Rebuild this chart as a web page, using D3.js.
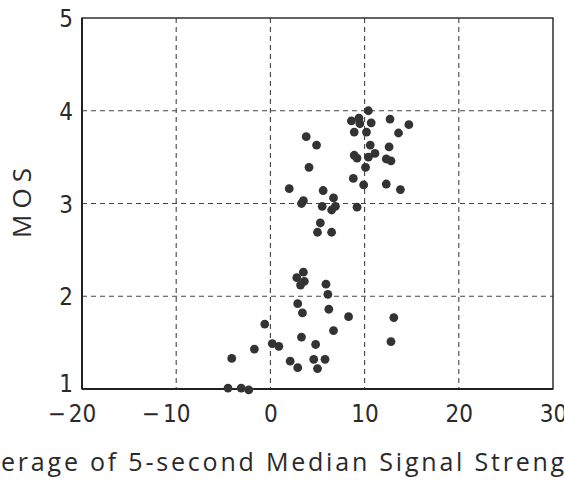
<!DOCTYPE html>
<html><head><meta charset="utf-8">
<script src="https://cdn.jsdelivr.net/npm/d3@7"></script>
<style>
html,body{margin:0;padding:0;background:#fff;}
svg{display:block;}
.tick-lab{font-family:"Liberation Sans Narrow","DejaVu Sans Condensed","Liberation Sans",sans-serif;font-stretch:condensed;font-size:24px;fill:#2a2a2a;}
</style></head>
<body>
<script>
const xTicks = [-20, -10, 0, 10, 20, 30];
const yTicks = [1, 2, 3, 4, 5];
const xLabel = "Average of 5-second Median Signal Strength (dB)";
const yLabel = "MOS";
const signal = [10.4, 8.6, 9.4, 9.5, 10.7, 12.7, 14.7, 8.9, 10.2, 13.6, 3.8, 4.9, 10.6, 12.6, 8.9, 9.2, 10.4, 11.1, 12.3, 12.8, 4.1, 10.1, 8.8, 9.9, 12.3, 13.8, 2.0, 5.6, 6.7, 3.5, 3.3, 5.5, 6.9, 6.5, 9.2, 5.3, 5.0, 6.5,
  3.5, 2.8, 3.6, 3.2, 5.9, 6.1, 2.9, 3.4, 6.2, 8.3, 13.1, -0.6, 6.7, 3.3, 4.8, 0.2, 0.9, -1.7, 12.8, -4.1, 2.1, 4.6, 5.8, 2.9, 5.0, -4.5, -3.1, -2.3];
const mos = [4.00, 3.89, 3.92, 3.86, 3.87, 3.91, 3.85, 3.77, 3.77, 3.76, 3.72, 3.63, 3.63, 3.61, 3.52, 3.49, 3.50, 3.54, 3.48, 3.46, 3.39, 3.39, 3.27, 3.20, 3.21, 3.15, 3.16, 3.14, 3.06, 3.03, 3.00, 2.97, 2.97, 2.93, 2.96, 2.79, 2.69, 2.69,
  2.26, 2.20, 2.16, 2.12, 2.13, 2.02, 1.92, 1.82, 1.86, 1.78, 1.77, 1.70, 1.63, 1.56, 1.48, 1.49, 1.46, 1.43, 1.51, 1.33, 1.30, 1.32, 1.32, 1.23, 1.22, 1.01, 1.01, 0.99];

const W = 564, H = 489;
const svg = d3.select("body").append("svg").attr("width", W).attr("height", H);
const x = d3.scaleLinear().domain([-20, 30]).range([82, 553]);
const y = d3.scaleLinear().domain([1, 5]).range([389, 18]);

// grid
const g = svg.append("g");
g.selectAll("line.vg").data(xTicks.filter(d => d > -20 && d < 30)).join("line")
  .attr("x1", d => x(d)).attr("x2", d => x(d)).attr("y1", y(5)).attr("y2", y(1))
  .attr("stroke", "#444").attr("stroke-width", 1.1).attr("stroke-dasharray", "5,4");
g.selectAll("line.hg").data(yTicks.filter(d => d > 1 && d < 5)).join("line")
  .attr("y1", d => y(d)).attr("y2", d => y(d)).attr("x1", x(-20)).attr("x2", x(30))
  .attr("stroke", "#444").attr("stroke-width", 1.1).attr("stroke-dasharray", "5,4");

// frame
svg.append("rect").attr("x", x(-20)).attr("y", y(5)).attr("width", x(30) - x(-20)).attr("height", y(1) - y(5))
  .attr("fill", "none").attr("stroke", "#222").attr("stroke-width", 1.4);
svg.append("line").attr("x1", x(-20)).attr("x2", x(30)).attr("y1", y(1)).attr("y2", y(1)).attr("stroke", "#222").attr("stroke-width", 2);
svg.append("line").attr("x1", x(-20)).attr("x2", x(-20)).attr("y1", y(5)).attr("y2", y(1)).attr("stroke", "#222").attr("stroke-width", 2);

// x axis labels
const xa = svg.append("g").attr("transform", `translate(0,${y(1) + 12})`)
  .call(d3.axisBottom(x).tickValues(xTicks).tickSize(0).tickFormat(d => String(Math.abs(d))));
xa.select(".domain").remove();
xa.selectAll("text").attr("class", "tick-lab").attr("dy", "0.71em").attr("y", 4).attr("fill", null);
xa.selectAll(".tick").each(function(d) {
  if (d < 0) {
    const t = d3.select(this).select("text");
    const w = t.node().getComputedTextLength();
    d3.select(this).append("text").attr("class", "tick-lab").attr("text-anchor", "end")
      .attr("x", -w / 2 - 3).attr("y", 4).attr("dy", "0.71em").text("\u2212");
  }
});

// y axis labels
const ya = svg.append("g").attr("transform", `translate(${x(-20) - 9},0)`)
  .call(d3.axisLeft(y).tickValues(yTicks).tickSize(0).tickFormat(d3.format("d")));
ya.select(".domain").remove();
ya.selectAll("text").attr("class", "tick-lab").attr("fill", null).attr("x", 0).attr("dy", "0.36em");
ya.selectAll(".tick").filter(d => d === 1).select("text").attr("dy", "0.1em");

// y title
svg.append("text").attr("transform", "translate(31,200) rotate(-90)")
  .attr("text-anchor", "middle").attr("font-family", "'Open Sans','DejaVu Sans',sans-serif")
  .attr("font-size", 26).attr("letter-spacing", 6).attr("fill", "#2a2a2a").text(yLabel);

// x title: placed so that "erage ... Streng" spans the window width
const tf = "'Open Sans','DejaVu Sans',sans-serif", ts = 25;
const xt = svg.append("text").attr("y", 471).attr("font-family", tf)
  .attr("font-size", ts).attr("fill", "#2a2a2a").text(xLabel);
const tmp = svg.append("text").attr("font-family", tf).attr("font-size", ts);
const wAv = tmp.text("Av").node().getComputedTextLength();
const wMid = tmp.text("erage of 5-second Median Signal Streng").node().getComputedTextLength();
tmp.remove();
const nMid = "erage of 5-second Median Signal Streng".length;
const ls = (566 - wMid) / nMid;
xt.attr("letter-spacing", ls).attr("x", -(wAv + 2 * ls) + 1);

// points
svg.append("g").selectAll("circle").data(signal.map((s, i) => [s, mos[i]])).join("circle")
  .attr("cx", d => x(d[0])).attr("cy", d => y(d[1])).attr("r", 4.4).attr("fill", "#333");
</script>
</body></html>
